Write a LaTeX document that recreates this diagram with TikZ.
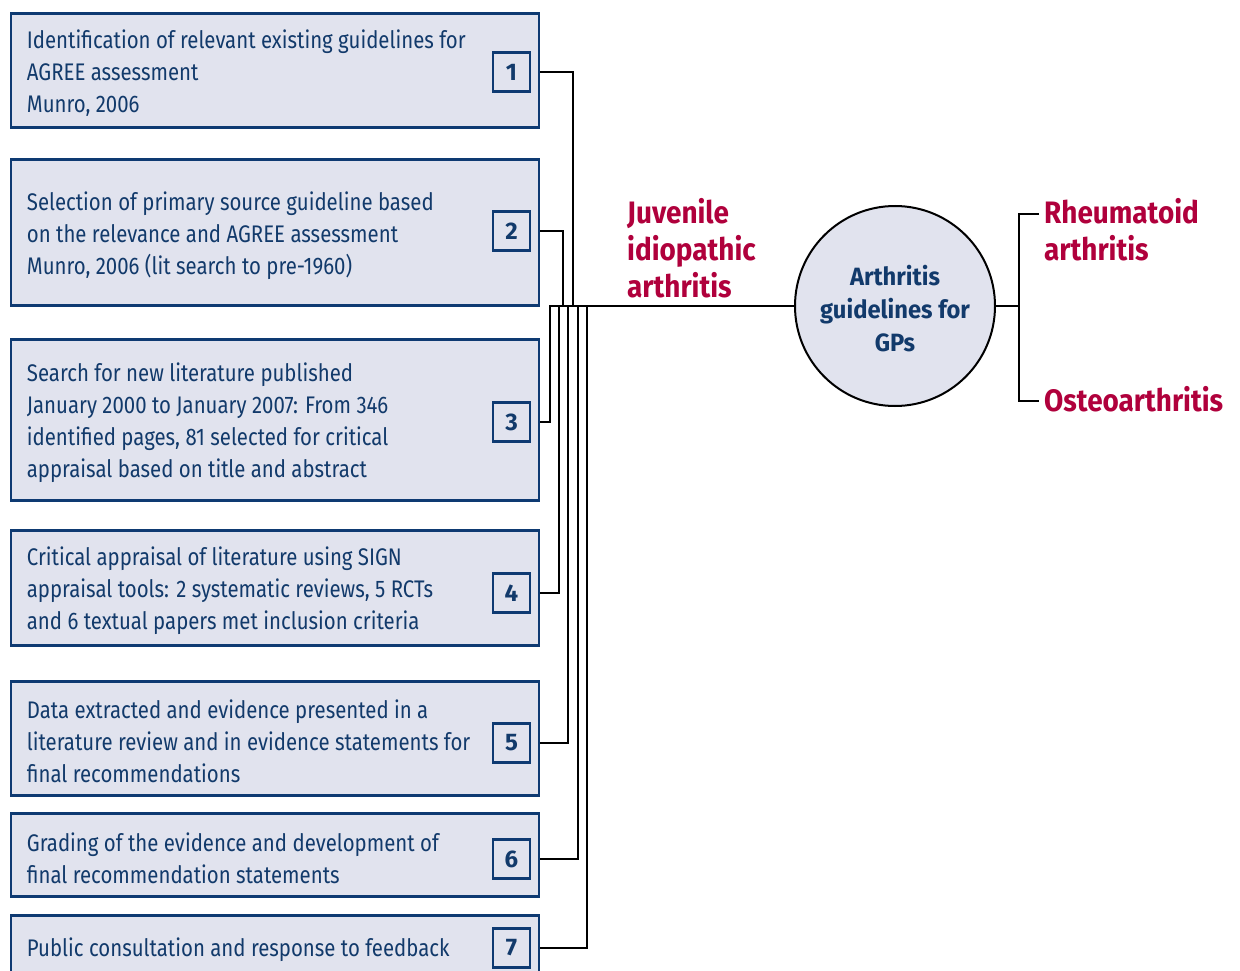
\documentclass[tikz,border=0pt]{standalone}
\usepackage{fontspec}
\setmainfont{Fira Sans}
\newfontfamily\boxf[FakeStretch=0.85]{Fira Sans}
\newfontfamily\redf[FakeStretch=0.9]{Fira Sans}
\newfontfamily\hubf[FakeStretch=0.95]{Fira Sans}
\usetikzlibrary{calc}
\definecolor{boxfill}{HTML}{E1E3EE}
\definecolor{boxblue}{HTML}{0E3A72}
\definecolor{txtblue}{HTML}{123A6B}
\definecolor{redc}{HTML}{B0003C}
\begin{document}
\begin{tikzpicture}[x=1pt,y=-1pt,
  stepbox/.style={draw=boxblue, fill=boxfill, line width=2.6pt, minimum width=528pt, inner sep=0pt},
  boxtext/.style={font=\boxf\fontsize{24}{32}\selectfont, text=txtblue, align=left, inner sep=0pt, anchor=west},
  numbox/.style={draw=boxblue, line width=2.6pt, minimum width=37pt, minimum height=39pt, inner sep=0pt, font=\bfseries\fontsize{24}{28}\selectfont, text=txtblue},
  link/.style={line width=2.8pt, draw=black},
  redlbl/.style={font=\redf\bfseries\fontsize{31}{37}\selectfont, text=redc, align=left, inner sep=0pt, anchor=west},
  hub/.style={circle, draw=black, line width=2pt, fill=boxfill, minimum size=200pt, inner sep=0pt},
  hubtext/.style={align=center, inner sep=0pt, font=\hubf\bfseries\fontsize{25}{33}\selectfont, text=txtblue}
]
\useasboundingbox (0,0) rectangle (1240,971);
\clip (0,0) rectangle (1240,971);
\fill[white] (0,0) rectangle (1240,971);

% boxes
\node[stepbox, minimum height=114pt] (b1) at (275,70.5) {};
\node[stepbox, minimum height=146pt] (b2) at (275,232.5) {};
\node[stepbox, minimum height=161pt] (b3) at (275,420) {};
\node[stepbox, minimum height=115pt] (b4) at (275,588) {};
\node[stepbox, minimum height=114pt] (b5) at (275,738.5) {};
\node[stepbox, minimum height=83pt] (b6) at (275,855) {};
\node[stepbox, minimum height=64pt] (b7) at (275,947.5) {};

% box texts
\node[boxtext] (t1) at ([xshift=17pt,yshift=-3pt]b1.west) {Identification of relevant existing guidelines for\\AGREE assessment\\Munro, 2006};
\node[boxtext] (t2) at ([xshift=17pt,yshift=-3pt]b2.west) {Selection of primary source guideline based\\on the relevance and AGREE assessment\\Munro, 2006 (lit search to pre-1960)};
\node[boxtext] (t3) at ([xshift=17pt,yshift=-3pt]b3.west) {Search for new literature published\\January 2000 to January 2007: From 346\\identified pages, 81 selected for critical\\appraisal based on title and abstract};
\node[boxtext] (t4) at ([xshift=17pt,yshift=-3pt]b4.west) {Critical appraisal of literature using SIGN\\appraisal tools: 2 systematic reviews, 5 RCTs\\and 6 textual papers met inclusion criteria};
\node[boxtext] (t5) at ([xshift=17pt,yshift=-3pt]b5.west) {Data extracted and evidence presented in a\\literature review and in evidence statements for\\final recommendations};
\node[boxtext] (t6) at ([xshift=17pt,yshift=-3pt]b6.west) {Grading of the evidence and development of\\final recommendation statements};
\node[boxtext] (t7) at ([xshift=17pt,yshift=-2pt]b7.west) {Public consultation and response to feedback};

% number squares
\node[numbox] (n1) at (511.5,72) {1};
\node[numbox] (n2) at (511.5,231) {2};
\node[numbox] (n3) at (511.5,422) {3};
\node[numbox] (n4) at (511.5,593) {4};
\node[numbox] (n5) at (511.5,743) {5};
\node[numbox] (n6) at (511.5,859) {6};
\node[numbox] (n7) at (511.5,948) {7};

% hub
\node[hub] (c) at (895,306) {};
\node[hubtext] (ct) at (895,309) {Arthritis\\guidelines for\\GPs};

% junction coordinates
\coordinate (v1) at (573,306);
\coordinate (v2) at (563,306);
\coordinate (v3) at (550,306);
\coordinate (v4) at (559,306);
\coordinate (v5) at (568,306);
\coordinate (v6) at (578,306);
\coordinate (v7) at (587,306);

\draw[link] (n1 -| b1.east) -| (v1);
\draw[link] (n2 -| b2.east) -| (v2);
\draw[link] (n3 -| b3.east) -| (v3) -- (c.west);
\draw[link] (n4 -| b4.east) -| (v4);
\draw[link] (n5 -| b5.east) -| (v5);
\draw[link] (n6 -| b6.east) -| (v6);
\draw[link] (n7 -| b7.east) -| (v7);

% right side
\coordinate (rj) at (1019,306);
\coordinate (ta) at (1039,214);
\coordinate (tb) at (1039,401);
\draw[link] (c.east) -- (rj);
\draw[link] (ta) -| (rj) |- (tb);

% labels
\node[redlbl] (juv) at (627,248) {Juvenile\\idiopathic\\arthritis};
\node[redlbl] (ra) at (1044,230) {Rheumatoid\\arthritis};
\node[redlbl] (oa) at (1044,399) {Osteoarthritis};
\end{tikzpicture}
\end{document}
